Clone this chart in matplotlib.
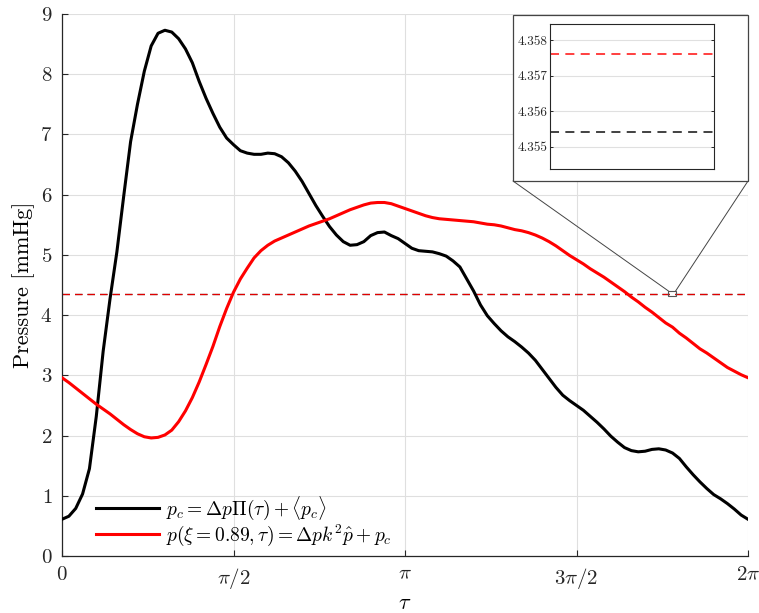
import numpy as np
import matplotlib
matplotlib.use("Agg")
import matplotlib.pyplot as plt
from matplotlib.patches import Rectangle, ConnectionPatch

plt.rcParams['font.family'] = 'serif'
plt.rcParams['font.serif'] = ['cmr10']
plt.rcParams['mathtext.fontset'] = 'cm'
plt.rcParams['axes.formatter.use_mathtext'] = True

# sample positions, tau in multiples of pi (0 ... 2, step 0.02)
tau_over_pi = np.linspace(0, 2, 101)

# p_c = dp*Pi(tau) + <p_c>
p_c = [0.61, 0.66, 0.79, 1.03, 1.45, 2.32, 3.40, 4.27, 5.05, 5.98,
       6.88, 7.50, 8.05, 8.47, 8.68, 8.73, 8.70, 8.59, 8.42, 8.19,
       7.88, 7.60, 7.35, 7.12, 6.94, 6.83, 6.73, 6.69, 6.67, 6.67,
       6.69, 6.68, 6.63, 6.53, 6.39, 6.22, 6.02, 5.82, 5.64, 5.47,
       5.33, 5.22, 5.16, 5.17, 5.22, 5.32, 5.37, 5.38, 5.32, 5.27,
       5.19, 5.11, 5.07, 5.06, 5.05, 5.02, 4.98, 4.90, 4.80, 4.60,
       4.40, 4.17, 3.99, 3.86, 3.74, 3.64, 3.56, 3.47, 3.37, 3.25,
       3.10, 2.95, 2.80, 2.67, 2.58, 2.50, 2.42, 2.32, 2.22, 2.11,
       1.99, 1.89, 1.80, 1.75, 1.73, 1.74, 1.77, 1.78, 1.76, 1.71,
       1.62, 1.48, 1.35, 1.23, 1.12, 1.02, 0.95, 0.87, 0.78, 0.68,
       0.61]

# p(xi = 0.89, tau)
p_wall = [2.96, 2.88, 2.79, 2.70, 2.61, 2.52, 2.44, 2.36, 2.27, 2.18,
          2.10, 2.03, 1.98, 1.96, 1.97, 2.01, 2.09, 2.23, 2.41, 2.63,
          2.89, 3.18, 3.48, 3.81, 4.11, 4.38, 4.60, 4.78, 4.95, 5.07,
          5.16, 5.23, 5.28, 5.33, 5.38, 5.43, 5.48, 5.52, 5.56, 5.60,
          5.65, 5.70, 5.75, 5.79, 5.83, 5.86, 5.87, 5.87, 5.85, 5.81,
          5.77, 5.73, 5.69, 5.65, 5.62, 5.60, 5.59, 5.58, 5.57, 5.56,
          5.55, 5.53, 5.51, 5.50, 5.48, 5.45, 5.42, 5.40, 5.37, 5.33,
          5.28, 5.22, 5.15, 5.07, 4.99, 4.92, 4.85, 4.77, 4.70, 4.63,
          4.55, 4.47, 4.39, 4.30, 4.22, 4.13, 4.05, 3.96, 3.87, 3.80,
          3.70, 3.62, 3.53, 3.44, 3.37, 3.29, 3.21, 3.13, 3.07, 3.01,
          2.96]

mean_p = 4.35761
mean_pc = 4.35541

xtick_labels = [r'$0$', r'$\pi/2$', r'$\pi$', r'$3\pi/2$', r'$2\pi$']
inset_ticks = [4.355, 4.356, 4.357, 4.358]

W, H = 759, 613
fig = plt.figure(figsize=(W / 100, H / 100), dpi=100)
ax = fig.add_axes([62 / W, 1 - 556 / H, 686 / W, 542 / H])

tau = tau_over_pi * np.pi
ax.plot(tau, p_c, color='k', lw=2.2,
        label=r'$p_c = \Delta p \Pi(\tau) + \langle p_c \rangle$', zorder=3)
ax.plot(tau, p_wall, color='#ff0000', lw=2.2,
        label=r'$p(\xi = 0.89, \tau) = \Delta p k^2 \hat{p} + p_c$', zorder=3)
ax.axhline(mean_pc, color='#333333', ls=(0, (6, 4)), lw=0.9, zorder=2)
ax.axhline(mean_p, color='#e00000', ls=(0, (6, 4)), lw=0.9, zorder=2)

ax.set_xlim(0, 2 * np.pi)
ax.set_ylim(0, 9)
ax.set_xticks(np.arange(5) * np.pi / 2)
ax.set_xticklabels(xtick_labels)
ax.set_yticks(range(10))
ax.grid(True, color='#dfdfdf', lw=0.8)
ax.set_axisbelow(True)
for s in ['top', 'right']:
    ax.spines[s].set_visible(False)
for s in ['left', 'bottom']:
    ax.spines[s].set_color('#262626')
    ax.spines[s].set_linewidth(0.9)
ax.tick_params(direction='in', length=4, width=0.8, colors='#262626',
               labelsize=15, pad=7)
ax.set_xlabel(r'$\tau$', fontsize=16, labelpad=2)
ax.set_ylabel('Pressure [mmHg]', fontsize=16, labelpad=4)

ax.legend(loc='lower left', bbox_to_anchor=(0.05, 0.015), frameon=False,
          fontsize=14, handlelength=3.2, handletextpad=0.4, labelspacing=0.05,
          borderpad=0, borderaxespad=0)

# zoom marker on main axes
rx0, rx1 = 5.555, 5.62
ry0, ry1 = 4.32, 4.40
ax.add_patch(Rectangle((rx0, ry0), rx1 - rx0, ry1 - ry0, fill=False,
                       edgecolor='#555555', lw=0.8, zorder=4))

# outer box of the inset
bx0, by0 = 513 / W, 1 - 181 / H
bx1, by1 = 748 / W, 1 - 15 / H
fig.patches.append(Rectangle((bx0, by0), bx1 - bx0, by1 - by0, transform=fig.transFigure,
                             facecolor='white', edgecolor='#444444', lw=0.9, zorder=1))
for (px, fx) in [(rx0, bx0), (rx1, bx1)]:
    con = ConnectionPatch(xyA=(px, ry1), coordsA=ax.transData,
                          xyB=(fx, by0), coordsB=fig.transFigure,
                          color='#444444', lw=0.7)
    fig.add_artist(con)

axi = fig.add_axes([550 / W, 1 - 169 / H, 164 / W, 145 / H], zorder=2)
axi.axhline(mean_pc, color='#333333', ls=(0, (5, 3.5)), lw=1.3)
axi.axhline(mean_p, color='#ff3030', ls=(0, (5, 3.5)), lw=1.3)
axi.set_xlim(0, 1)
axi.set_ylim(4.35437, 4.35846)
axi.set_xticks([])
axi.set_yticks(inset_ticks)
axi.set_yticklabels(['%.3f' % v for v in inset_ticks])
axi.grid(True, axis='y', color='#e0e0e0', lw=0.8)
axi.set_axisbelow(True)
for s in axi.spines.values():
    s.set_color('#262626')
    s.set_linewidth(0.8)
axi.tick_params(direction='in', length=2.5, width=0.7, colors='#262626',
                labelsize=9.5, right=True, pad=2)

fig.savefig('out.png', dpi=100)
